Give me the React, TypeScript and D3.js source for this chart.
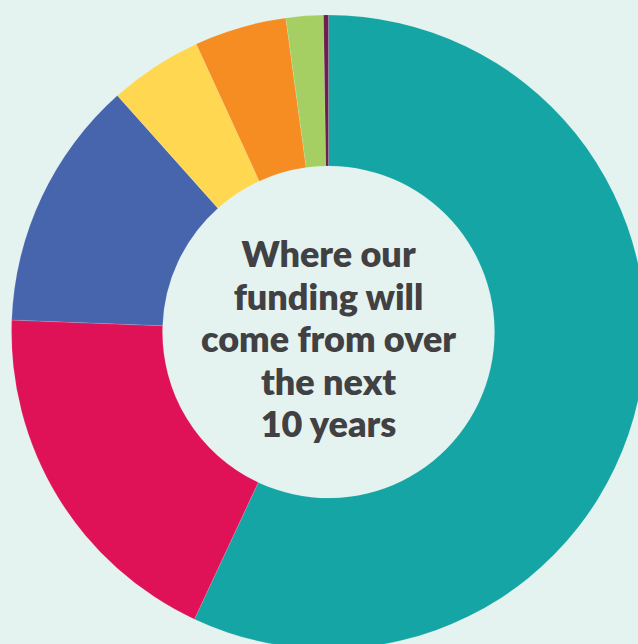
import React, { useRef, useEffect } from 'react';
import * as d3 from 'd3';

// funding sources, clockwise from 12 o'clock
const sources = ['Source A', 'Source B', 'Source C', 'Source D', 'Source E', 'Source F', 'Source G'];
const shares = [56.95, 18.65, 12.8, 4.75, 4.7, 1.9, 0.25];
const colours = ['#14A5A4', '#E01257', '#4765AD', '#FFD750', '#F68D22', '#A5CF63', '#6B1E4F'];
const titleLines = ['Where our', 'funding will', 'come from over', 'the next', '10 years'];

const W = 638;
const H = 644;
const BG = '#E4F3F0';

const App: React.FC = () => {
  const svgRef = useRef<SVGSVGElement | null>(null);

  useEffect(() => {
    if (!svgRef.current) return;
    const svg = d3.select(svgRef.current);
    svg.selectAll('*').remove();

    svg.attr('width', W).attr('height', H);
    svg.append('rect').attr('width', W).attr('height', H).attr('fill', BG);

    const cx = 328.5;
    const cy = 332;
    const outer = 317;
    const inner = 166;

    const g = svg.append('g').attr('transform', `translate(${cx},${cy})`);

    const data = sources.map((s, i) => ({ name: s, value: shares[i], colour: colours[i] }));
    const pie = d3
      .pie<{ name: string; value: number; colour: string }>()
      .sort(null)
      .value((d) => d.value)
      .startAngle(0)
      .endAngle(2 * Math.PI);

    const arc = d3
      .arc<d3.PieArcDatum<{ name: string; value: number; colour: string }>>()
      .innerRadius(inner)
      .outerRadius(outer);

    g.selectAll('path')
      .data(pie(data))
      .enter()
      .append('path')
      .attr('d', arc)
      .attr('fill', (d) => d.data.colour)
      .attr('stroke', '#ffffff')
      .attr('stroke-opacity', 0.25)
      .attr('stroke-width', 0.5);

    // centre title
    const lineH = 42.5;
    const firstBase = 267 - cy;
    g.append('text')
      .attr('text-anchor', 'middle')
      .attr('font-family', 'Lato, "Open Sans", sans-serif')
      .attr('font-weight', 800)
      .attr('font-size', 36)
      .attr('fill', '#414042')
      .selectAll('tspan')
      .data(titleLines)
      .enter()
      .append('tspan')
      .attr('x', 0)
      .attr('y', (_, i) => firstBase + i * lineH)
      .text((d) => d);
  }, []);

  return <svg ref={svgRef} style={{ position: 'absolute', left: 0, top: 0, display: 'block' }} />;
};

export default App;
